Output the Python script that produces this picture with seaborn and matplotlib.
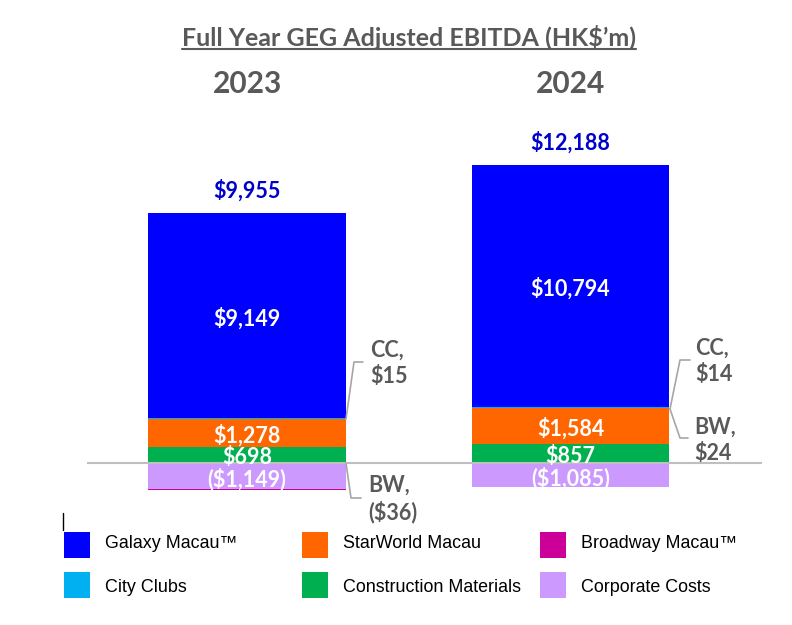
import numpy as np
import pandas as pd
import matplotlib
matplotlib.use('Agg')
import matplotlib.pyplot as plt
import seaborn as sns
from matplotlib.patches import Rectangle
from matplotlib.lines import Line2D

# ===================== 数据 =====================
years = ['2023', '2024']
segments = ['Galaxy Macau™', 'StarWorld Macau', 'Broadway Macau™',
            'City Clubs', 'Construction Materials', 'Corporate Costs']
colors = ['#0000FF', '#FF6600', '#CC0099', '#00B0F0', '#00B050', '#CC99FF']

galaxy = [9149, 10794]
starworld = [1278, 1584]
broadway = [-36, 24]
city_clubs = [15, 14]
construction = [698, 857]
corporate = [-1149, -1085]
totals = [9955, 12188]

# 从下往上的堆叠顺序 (负值从 0 往下堆)
stack_order = ['Corporate Costs', 'Construction Materials', 'StarWorld Macau',
               'Broadway Macau™', 'City Clubs', 'Galaxy Macau™']

values = {
    'Galaxy Macau™': galaxy, 'StarWorld Macau': starworld, 'Broadway Macau™': broadway,
    'City Clubs': city_clubs, 'Construction Materials': construction, 'Corporate Costs': corporate,
}
color_of = dict(zip(segments, colors))

rows = []
for i, yr in enumerate(years):
    pos, neg = 0, 0
    for seg in stack_order:
        v = values[seg][i]
        if v >= 0:
            lo, hi = pos, pos + v
            pos = hi
            edge = hi
        else:
            lo, hi = neg + v, neg
            neg = lo
            edge = lo
        rows.append(dict(year=yr, segment=seg, value=v, lo=lo, hi=hi, edge=edge))
df = pd.DataFrame(rows)

# ===================== 画布 =====================
W, H = 792, 625
sns.set_theme(style='white')
plt.rcParams['font.family'] = ['Lato', 'DejaVu Sans']

fig = plt.figure(figsize=(W / 100, H / 100), dpi=100)
ax = fig.add_axes([0, 0, 1, 1])

BAR_W = 0.612
# 叠加画法：从最外层开始画，后画的较短的段覆盖在上面
for seg in stack_order[::-1]:
    sub = df[df['segment'] == seg]
    sns.barplot(data=sub, x='year', y='edge', order=years, color=color_of[seg],
                saturation=1, width=BAR_W, errorbar=None, linewidth=0, ax=ax)

# 坐标映射: 0 轴在 y=463px，每像素 44.55；类别中心 247px / 570.5px
UPP = 44.55
ax.set_xlim(-247 / 323.5, (W - 247) / 323.5)
ax.set_ylim(-(H - 463) * UPP, 463 * UPP)
ax.axis('off')

ax.hlines(0, (87 - 247) / 323.5, (762 - 247) / 323.5, color='#BFBFBF', lw=1.5, zorder=5)


def fx(px):
    return px / W


def fy(py):
    return 1 - py / H


gray = '#595959'
blue_txt = '#0000CC'

# 标题 (带下划线)
title = fig.text(fx(409), fy(37), 'Full Year GEG Adjusted EBITDA (HK$’m)', ha='center', va='center',
                 fontsize=18, fontweight='bold', color=gray)
fig.canvas.draw()
bb = title.get_window_extent(fig.canvas.get_renderer())
fig.add_artist(Line2D([bb.x0 / W, bb.x1 / W], [(bb.y0 + 1) / H] * 2,
                      color=gray, lw=1.5, transform=fig.transFigure))

for i, yr in enumerate(years):
    fig.text(fx(247 + i * 323.5), fy(84), yr, ha='center', va='center',
             fontsize=21.5, fontweight='bold', color=gray)

# 总数
for i, t in enumerate(totals):
    top = df[(df['year'] == years[i]) & (df['value'] > 0)]['hi'].max()
    ax.annotate(f'${t:,}', (i, top), xytext=(0, 16), textcoords='offset points',
                ha='center', va='center', fontsize=15.5, fontweight='bold', color=blue_txt)


def money(v):
    return f'${v:,}' if v >= 0 else f'(${-v:,})'


# 柱内标签
for seg in ['Galaxy Macau™', 'StarWorld Macau', 'Construction Materials', 'Corporate Costs']:
    for i, yr in enumerate(years):
        r = df[(df['year'] == yr) & (df['segment'] == seg)].iloc[0]
        ax.annotate(money(r['value']), (i, (r['lo'] + r['hi']) / 2), xytext=(0, -2),
                    textcoords='offset points', ha='center', va='center',
                    fontsize=15.5, fontweight='bold', color='white', zorder=6)

# 小段的引导线和标签 (像素坐标)
callouts = [
    ('CC', city_clubs[0], [(346, 419), (354, 362), (363, 362)], (370, 363)),
    ('BW', broadway[0], [(346, 463), (351, 498), (361, 498)], (368, 499)),
    ('CC', city_clubs[1], [(670, 409), (680, 360), (690, 360)], (695, 361)),
    ('BW', broadway[1], [(670, 409), (680, 438), (688, 438)], (694, 440)),
]
for name, v, pts, (tx, ty) in callouts:
    xs = [fx(p[0]) for p in pts]
    ys = [fy(p[1]) for p in pts]
    fig.add_artist(Line2D(xs, ys, color='#A6A6A6', lw=1.2, transform=fig.transFigure))
    fig.text(fx(tx), fy(ty), f'{name},\n{money(v)}', ha='left', va='center', fontsize=15.5,
             fontweight='bold', color=gray, linespacing=1.3)

# 图例 (两行三列)
leg_cols = [64, 302, 540]
leg_rows = [532, 572]
leg_text_y = [544, 588]
for k, seg in enumerate(segments):
    c, r = k % 3, k // 3
    x0, y0 = leg_cols[c], leg_rows[r]
    fig.add_artist(Rectangle((fx(x0), fy(y0 + 26)), 26 / W, 26 / H,
                             facecolor=color_of[seg], edgecolor='none', transform=fig.transFigure))
    fig.text(fx(x0 + 41), fy(leg_text_y[r]), seg, ha='left', va='center', fontsize=12.9,
             family=['Liberation Sans', 'DejaVu Sans'], color='black')

# 光标痕迹
fig.add_artist(Line2D([fx(63), fx(63)], [fy(513), fy(530)], color='black', lw=1,
                      transform=fig.transFigure))

fig.savefig('out.png', dpi=100)
